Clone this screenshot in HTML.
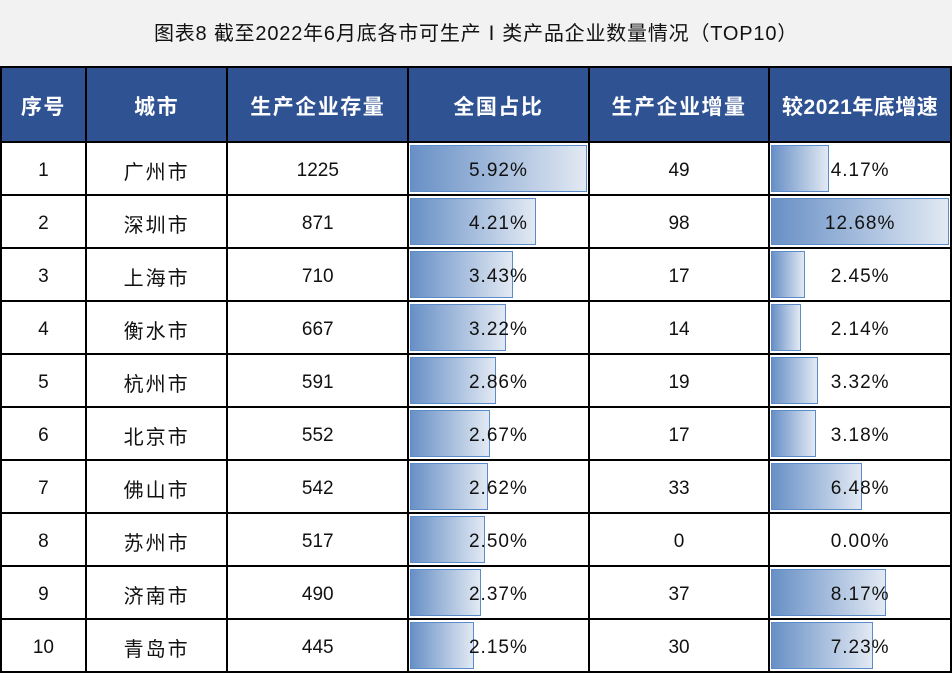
<!DOCTYPE html>
<html><head><meta charset="utf-8"><style>
body{margin:0;width:952px;height:674px;background:#fff;overflow:hidden;font-family:"Liberation Sans","Noto Sans CJK SC",sans-serif;}
.title{position:absolute;left:0;top:0;width:952px;height:66px;background:#f2f2f2;text-align:center;line-height:68px;font-size:20px;letter-spacing:0.8px;color:#111;}
table{position:absolute;left:0;top:66px;border-collapse:collapse;table-layout:fixed;}
td,th{border:2px solid #000;padding:0;text-align:center;font-size:19px;color:#111;position:relative;}
th{background:#2f5293;color:#fff;height:71px;font-size:21px;font-weight:bold;letter-spacing:1.5px;padding-top:2px;}
th.n{letter-spacing:0.5px;}
td{height:47px;padding-top:4px;}
td.c{font-size:20px;letter-spacing:2px;}
.bar{position:absolute;left:1px;top:2px;bottom:2px;border:1px solid #5b8bc8;background:linear-gradient(to right,#6890c6,#e2e9f3);box-sizing:border-box;}
.t{position:relative;letter-spacing:1px;}
</style></head><body>
<div class="title">图表8 截至2022年6月底各市可生产Ⅰ类产品企业数量情况（TOP10）</div>
<table>
<colgroup><col style="width:85px"><col style="width:142px"><col style="width:181px"><col style="width:181px"><col style="width:181px"><col style="width:182px"></colgroup>
<tr><th>序号</th><th>城市</th><th>生产企业存量</th><th>全国占比</th><th>生产企业增量</th><th class="n">较2021年底增速</th></tr>
<tr><td>1</td><td class="c">广州市</td><td>1225</td><td><div class="bar" style="width:177px"></div><span class="t">5.92%</span></td><td>49</td><td><div class="bar" style="width:58px"></div><span class="t">4.17%</span></td></tr>
<tr><td>2</td><td class="c">深圳市</td><td>871</td><td><div class="bar" style="width:126px"></div><span class="t">4.21%</span></td><td>98</td><td><div class="bar" style="width:178px"></div><span class="t">12.68%</span></td></tr>
<tr><td>3</td><td class="c">上海市</td><td>710</td><td><div class="bar" style="width:103px"></div><span class="t">3.43%</span></td><td>17</td><td><div class="bar" style="width:34px"></div><span class="t">2.45%</span></td></tr>
<tr><td>4</td><td class="c">衡水市</td><td>667</td><td><div class="bar" style="width:96px"></div><span class="t">3.22%</span></td><td>14</td><td><div class="bar" style="width:30px"></div><span class="t">2.14%</span></td></tr>
<tr><td>5</td><td class="c">杭州市</td><td>591</td><td><div class="bar" style="width:86px"></div><span class="t">2.86%</span></td><td>19</td><td><div class="bar" style="width:47px"></div><span class="t">3.32%</span></td></tr>
<tr><td>6</td><td class="c">北京市</td><td>552</td><td><div class="bar" style="width:80px"></div><span class="t">2.67%</span></td><td>17</td><td><div class="bar" style="width:45px"></div><span class="t">3.18%</span></td></tr>
<tr><td>7</td><td class="c">佛山市</td><td>542</td><td><div class="bar" style="width:78px"></div><span class="t">2.62%</span></td><td>33</td><td><div class="bar" style="width:91px"></div><span class="t">6.48%</span></td></tr>
<tr><td>8</td><td class="c">苏州市</td><td>517</td><td><div class="bar" style="width:75px"></div><span class="t">2.50%</span></td><td>0</td><td><span class="t">0.00%</span></td></tr>
<tr><td>9</td><td class="c">济南市</td><td>490</td><td><div class="bar" style="width:71px"></div><span class="t">2.37%</span></td><td>37</td><td><div class="bar" style="width:115px"></div><span class="t">8.17%</span></td></tr>
<tr><td>10</td><td class="c">青岛市</td><td>445</td><td><div class="bar" style="width:64px"></div><span class="t">2.15%</span></td><td>30</td><td><div class="bar" style="width:102px"></div><span class="t">7.23%</span></td></tr>
</table>
</body></html>
